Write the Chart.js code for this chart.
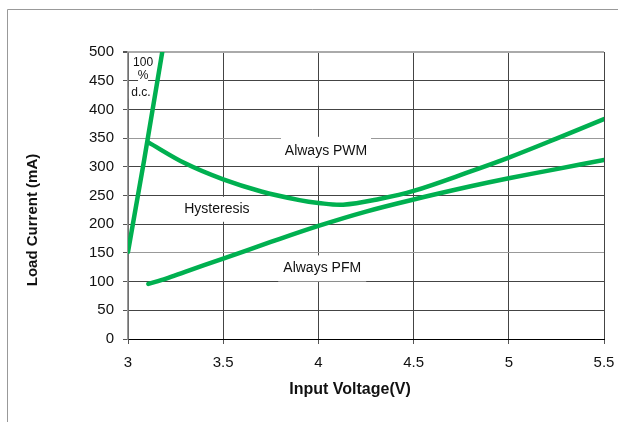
<!DOCTYPE html>
<html lang="en">

<head>
    <meta charset="UTF-8">
    <title>Load Current vs Input Voltage</title>
    <script src="https://cdn.jsdelivr.net/npm/chart.js"></script>
    <style>
        body {
            margin: 0;
            background: #fff;
        }

        .chart-box {
            position: relative;
            width: 618px;
            height: 422px;
        }
    </style>
</head>

<body>
    <div class="chart-box">
        <canvas id="modeChart"></canvas>
    </div>

    <script>
        // values (V, mA)
        const dcVolts = [3.0, 3.085, 3.18];
        const dcCurrent = [152, 312, 500];

        const pwmVolts = [3.105, 3.3, 3.5, 3.7, 3.9, 4.0, 4.13, 4.32, 4.5, 4.8, 5.0, 5.25, 5.5];
        const pwmCurrent = [343, 306, 278, 257, 242, 237, 234, 244, 258, 292, 316, 349, 383];

        const pfmVolts = [3.107, 3.2, 3.3, 3.5, 3.75, 4.0, 4.25, 4.5, 4.8, 5.0, 5.25, 5.5];
        const pfmCurrent = [96, 105, 117, 140, 169, 197, 222, 243, 266, 280, 296, 312];

        const xTickLabels = ['3', '3.5', '4', '4.5', '5', '5.5'];

        const green = 'rgb(0, 176, 80)';
        const fontName = '"Liberation Sans", Arial, sans-serif';

        function pairs(xs, ys) {
            return xs.map(function (x, i) { return { x: x, y: ys[i] }; });
        }

        // text boxes sitting on the grid (value coords + box size in px)
        var notes = [
            { text: '100', x: 3.079, y: 481, size: 12, w: 22, h: 12 },
            { text: '%', x: 3.079, y: 459, size: 12, w: 10, h: 11 },
            { text: 'd.c.', x: 3.068, y: 429, size: 12, w: 24, h: 12 },
            { text: 'Hysteresis', x: 3.467, y: 226, size: 14, w: 78, h: 25 },
            { text: 'Always PWM', x: 4.04, y: 327, size: 14, w: 90, h: 29 },
            { text: 'Always PFM', x: 4.02, y: 123, size: 14, w: 88, h: 26 }
        ];

        var extras = {
            id: 'extras',
            beforeDraw: function (chart) {
                var ctx = chart.ctx;
                ctx.save();
                ctx.strokeStyle = '#999';
                ctx.lineWidth = 1;
                ctx.beginPath();
                ctx.moveTo(7.5, 422);
                ctx.lineTo(7.5, 9.5);
                ctx.lineTo(618, 9.5);
                ctx.stroke();
                ctx.restore();
            },
            beforeDatasetsDraw: function (chart) {
                var ctx = chart.ctx;
                var xs = chart.scales.x, ys = chart.scales.y;
                ctx.save();
                ctx.textAlign = 'center';
                ctx.textBaseline = 'middle';
                notes.forEach(function (n) {
                    var px = xs.getPixelForValue(n.x);
                    var py = ys.getPixelForValue(n.y);
                    ctx.fillStyle = '#fff';
                    ctx.fillRect(px - n.w / 2, py - n.h / 2, n.w, n.h);
                    ctx.fillStyle = '#111';
                    ctx.font = n.size + 'px ' + fontName;
                    ctx.fillText(n.text, px, py);
                });
                ctx.restore();
            },
            afterDraw: function (chart) {
                var ctx = chart.ctx;
                ctx.save();
                ctx.fillStyle = '#111';
                ctx.textAlign = 'center';
                ctx.textBaseline = 'middle';
                ctx.font = 'bold 16px ' + fontName;
                ctx.fillText('Input Voltage(V)', 350, 390);
                ctx.translate(33, 220);
                ctx.rotate(-Math.PI / 2);
                ctx.font = 'bold 15px ' + fontName;
                ctx.fillText('Load Current (mA)', 0, 0);
                ctx.restore();
            }
        };

        function lineSet(xs, ys, tension) {
            return {
                data: pairs(xs, ys),
                showLine: true,
                borderColor: green,
                backgroundColor: green,
                borderWidth: 4.5,
                pointRadius: 0,
                tension: tension,
                borderCapStyle: 'round',
                borderJoinStyle: 'round'
            };
        }

        var ctx = document.getElementById('modeChart').getContext('2d');
        var modeChart = new Chart(ctx, {
            type: 'scatter',
            data: {
                datasets: [
                    lineSet(dcVolts, dcCurrent, 0),
                    lineSet(pwmVolts, pwmCurrent, 0.35),
                    lineSet(pfmVolts, pfmCurrent, 0.35)
                ]
            },
            options: {
                responsive: true,
                maintainAspectRatio: false,
                animation: false,
                layout: { padding: { left: 0, top: 52, right: 14, bottom: 0 } },
                plugins: {
                    legend: { display: false },
                    tooltip: { enabled: false }
                },
                scales: {
                    x: {
                        type: 'linear',
                        min: 3,
                        max: 5.5,
                        afterFit: function (scale) {
                            scale.height = 83;
                            scale.paddingLeft = 0;
                            scale.paddingRight = 0;
                        },
                        ticks: {
                            stepSize: 0.5,
                            padding: 10,
                            color: '#111',
                            font: { family: fontName, size: 15 },
                            callback: function (v) { return xTickLabels[Math.round((v - 3) / 0.5)]; }
                        },
                        grid: { color: '#444', tickColor: '#555', tickLength: 5, lineWidth: 1 },
                        border: { color: '#000', width: 1 }
                    },
                    y: {
                        min: 0,
                        max: 500,
                        afterFit: function (scale) { scale.width = 128; },
                        ticks: {
                            stepSize: 50,
                            padding: 9,
                            color: '#111',
                            font: { family: fontName, size: 15 }
                        },
                        grid: {
                            color: function (c) {
                                var v = c.tick && c.tick.value;
                                if (v === 500) return '#aaa';
                                if (v === 150 || v === 350) return '#999';
                                return '#444';
                            },
                            lineWidth: function (c) {
                                return c.tick && c.tick.value === 500 ? 2 : 1;
                            },
                            tickColor: '#555',
                            tickLength: 5
                        },
                        border: { color: '#999', width: 1.5 }
                    }
                }
            },
            plugins: [extras]
        });
    </script>
</body>

</html>
